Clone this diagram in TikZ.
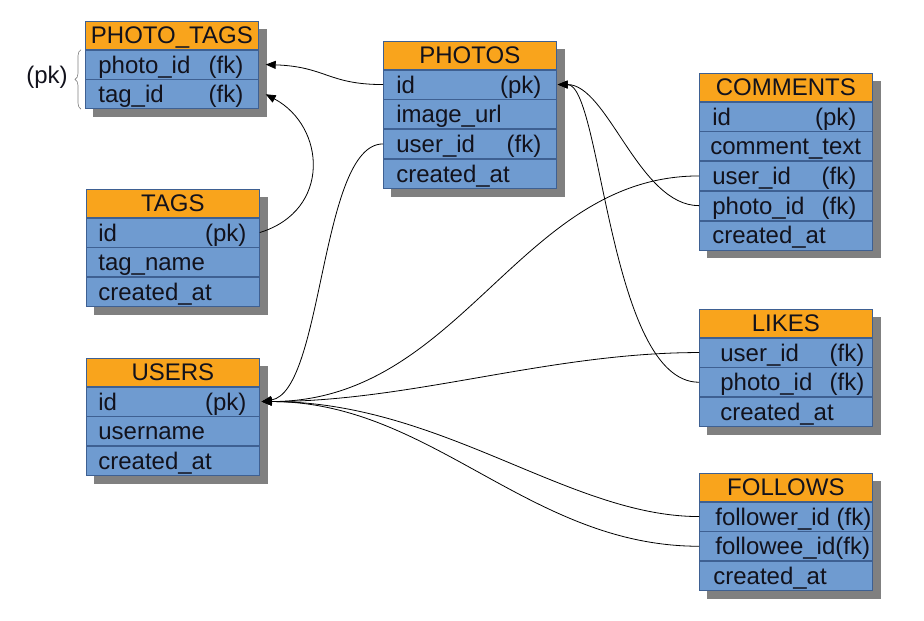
\documentclass[tikz,border=0pt]{standalone}
\usepackage{fontspec}
\setmainfont{Liberation Sans}
\usetikzlibrary{arrows.meta,calc,decorations.pathreplacing}
\definecolor{hdrc}{RGB}{249,164,28}
\definecolor{rowc}{RGB}{111,155,208}
\definecolor{brdc}{RGB}{62,96,146}
\definecolor{shdc}{RGB}{128,128,128}
\definecolor{txtc}{RGB}{18,18,28}
\pgfdeclarelayer{bg}
\pgfsetlayers{bg,main}
\newcommand\rt[4]{\makebox[173pt][l]{\hspace*{#1pt}#2\hfill#3\hspace*{#4pt}}}
\tikzset{
  cell/.style={rectangle, draw=brdc, line width=0.7pt, minimum width=173pt, inner sep=0pt,
    anchor=north west, text=txtc, font=\fontsize{24}{28}\selectfont,
    text height=21.5pt, text depth=4.5pt},
  hdr/.style={cell, fill=hdrc, minimum height=28pt},
  erow/.style={cell, fill=rowc, minimum height=29pt},
  conn/.style={draw=black, line width=0.8pt, -{Triangle[length=10pt,width=8pt]}},
  shd/.style={fill=shdc}
}
\newcommand\shadowbox[2]{\begin{pgfonlayer}{bg}\fill[shd] ($(#1.north west)+(8,8)$) rectangle ($(#2.south east)+(8,8)$);\end{pgfonlayer}}
\begin{document}
\begin{tikzpicture}[x=1pt,y=-1pt]
\useasboundingbox (0,0) rectangle (924,621);

% PHOTO_TAGS
\node[hdr] (pt) at (85,21) {PHOTO\_TAGS};
\node[erow] (pt1) at (pt.south west) {\rt{13}{photo\_id}{(fk)}{15}};
\node[erow] (pt2) at (pt1.south west) {\rt{13}{tag\_id}{(fk)}{15}};
\shadowbox{pt}{pt2}

% PHOTOS
\node[hdr] (ph) at (383,41) {PHOTOS};
\node[erow] (ph1) at (ph.south west) {\rt{13}{id}{(pk)}{15}};
\node[erow] (ph2) at (ph1.south west) {\rt{13}{image\_url}{}{15}};
\node[erow] (ph3) at (ph2.south west) {\rt{13}{user\_id}{(fk)}{15}};
\node[erow] (ph4) at (ph3.south west) {\rt{13}{created\_at}{}{15}};
\shadowbox{ph}{ph4}

% COMMENTS
\node[hdr] (cm) at (699,73) {COMMENTS};
\node[erow] (cm1) at (cm.south west) {\rt{13}{id}{(pk)}{16}};
\node[erow] (cm2) at (cm1.south west) {\rt{11}{comment\_text}{}{8}};
\node[erow] (cm3) at (cm2.south west) {\rt{13}{user\_id}{(fk)}{16}};
\node[erow] (cm4) at (cm3.south west) {\rt{13}{photo\_id}{(fk)}{16}};
\node[erow] (cm5) at (cm4.south west) {\rt{13}{created\_at}{}{16}};
\shadowbox{cm}{cm5}

% TAGS
\node[hdr] (tg) at (86,189) {TAGS};
\node[erow] (tg1) at (tg.south west) {\rt{12}{id}{(pk)}{13}};
\node[erow] (tg2) at (tg1.south west) {\rt{12}{tag\_name}{}{13}};
\node[erow] (tg3) at (tg2.south west) {\rt{12}{created\_at}{}{13}};
\shadowbox{tg}{tg3}

% USERS
\node[hdr] (us) at (86,358) {USERS};
\node[erow] (us1) at (us.south west) {\rt{12}{id}{(pk)}{13}};
\node[erow] (us2) at (us1.south west) {\rt{12}{username}{}{13}};
\node[erow] (us3) at (us2.south west) {\rt{12}{created\_at}{}{13}};
\shadowbox{us}{us3}

% LIKES
\node[hdr] (lk) at (699,309) {LIKES};
\node[erow] (lk1) at (lk.south west) {\rt{21}{user\_id}{(fk)}{8}};
\node[erow] (lk2) at (lk1.south west) {\rt{21}{photo\_id}{(fk)}{8}};
\node[erow] (lk3) at (lk2.south west) {\rt{21}{created\_at}{}{8}};
\shadowbox{lk}{lk3}

% FOLLOWS
\node[hdr] (fl) at (699,473) {FOLLOWS};
\node[erow] (fl1) at (fl.south west) {\rt{16}{follower\_id (fk)}{}{0}};
\node[erow] (fl2) at (fl1.south west) {\rt{16}{followee\_id(fk)}{}{0}};
\node[erow] (fl3) at (fl2.south west) {\rt{14}{created\_at}{}{0}};
\shadowbox{fl}{fl3}

% brace
\coordinate (brtop) at ($(pt1.north west)+(-4,0)$);
\coordinate (brbot) at ($(pt2.south west)+(-4,0)$);
\draw[decorate, decoration={brace, amplitude=6pt}, draw=shdc, line width=0.6pt] (brbot) -- (brtop);
\node[text=txtc, font=\fontsize{24}{28}\selectfont, inner sep=0pt] (pklbl) at (47,77) {(pk)};

% connectors
\draw[conn] (ph1.west) .. controls +(-55,0) and +(60,2) .. ([xshift=7pt]pt1.east);
\draw[conn] (tg1.east) .. controls +(72,-22) and +(60,32) .. ([xshift=7pt]pt2.east);
\draw[conn] (ph3.west) .. controls +(-63,0) and +(62,-10) .. ([xshift=2pt]us1.east);
\draw[conn] (cm3.west) .. controls +(-180,0) and +(200,0) .. ([xshift=2pt]us1.east);
\draw[conn] (cm4.west) .. controls +(-60,0) and +(50,0) .. ([xshift=1pt]ph1.east);
\draw[conn] (lk2.west) .. controls +(-90,0) and +(44,0) .. ([xshift=1pt]ph1.east);
\draw[conn] (lk1.west) .. controls +(-150,0) and +(150,0) .. ([xshift=2pt]us1.east);
\draw[conn] (fl1.west) .. controls +(-130,0) and +(180,0) .. ([xshift=2pt]us1.east);
\draw[conn] (fl2.west) .. controls +(-170,0) and +(170,0) .. ([xshift=2pt]us1.east);
\end{tikzpicture}
\end{document}
